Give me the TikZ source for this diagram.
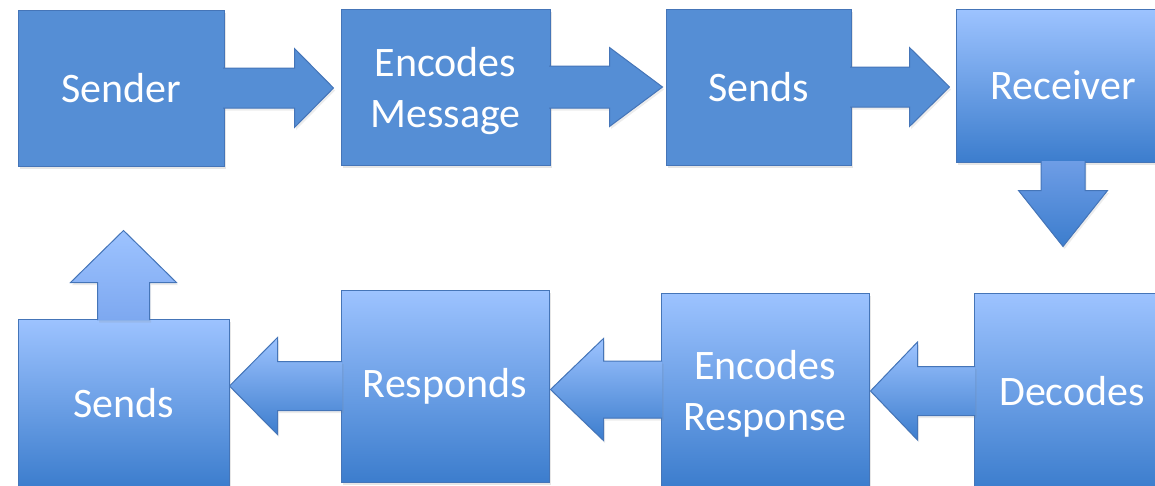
\documentclass[tikz,border=0pt]{standalone}
\usepackage{fontspec}
\setmainfont{Carlito}
\usetikzlibrary{calc,shadows}

\definecolor{flatblue}{RGB}{85,142,213}
\definecolor{edgeblue}{RGB}{69,117,184}
\definecolor{lightblue}{RGB}{157,195,255}
\definecolor{midblue}{RGB}{110,157,230}
\definecolor{darkblue}{RGB}{60,125,205}

% taller first line, pushes two-line labels down a little
\newcommand\tstrut{\rule{0pt}{37pt}}

% block arrow: [opts]{tail}{tip}{shaft half width}{head half width}{head length}
\newcommand\blockarrow[6][]{%
  \coordinate (ba) at ($(#3)!#6!(#2)$);
  \filldraw[ar,#1] ($(#2)!#4!90:(#3)$) -- ($(ba)!#4!90:(#3)$) -- ($(ba)!#5!90:(#3)$) -- (#3)
    -- ($(ba)!#5!-90:(#3)$) -- ($(ba)!#4!-90:(#3)$) -- ($(#2)!#4!-90:(#3)$);
}

\begin{document}
\begin{tikzpicture}[x=1pt,y=-1pt,
box/.style={draw=edgeblue, line width=1pt, fill=flatblue, text=white, inner sep=0pt, align=center,
  font=\fontsize{42}{51}\selectfont, drop shadow={opacity=0.2, shadow xshift=1.5pt, shadow yshift=-2.5pt}},
gbox/.style={box, top color=lightblue, bottom color=darkblue},
ar/.style={draw=edgeblue, line width=1pt, fill=flatblue, line join=miter,
  drop shadow={opacity=0.15, shadow xshift=1.5pt, shadow yshift=-2.5pt}}
]

\useasboundingbox (0,0) rectangle (1155,485);
\clip (0,0) rectangle (1155,485);

% ---------- TOP ROW ----------
\node[box, minimum width=206, minimum height=156] (sender) at (121,88) {Sender};
\node[box, minimum width=209, minimum height=156] (encmsg) at (445.5,87) {\tstrut Encodes\\Message};
\node[box, minimum width=185, minimum height=156] (sendsa) at (758.5,87) {Sends};
\node[gbox, minimum width=214, minimum height=153] (receiver) at (1063,85.5) {Receiver};

% ---------- BOTTOM ROW ----------
\node[gbox, minimum width=196, minimum height=196] (decodes) at (1072,391) {Decodes};
\node[gbox, minimum width=208, minimum height=193] (encresp) at (765,389.5) {\tstrut Encodes\\Response};
\node[gbox, minimum width=208, minimum height=192] (responds) at (445,386) {Responds};
\node[gbox, minimum width=211, minimum height=168] (sendsb) at (123.5,403) {Sends};

% top arrows
\coordinate (t1) at ([xshift=-1.5pt]sender.east);
\coordinate (h1) at ($(encmsg.west |- t1)+(-7,0)$);
\blockarrow{t1}{h1}{20pt}{39.5pt}{39pt}

\coordinate (t2) at ([xshift=-1.5pt]encmsg.east);
\coordinate (h2) at ([xshift=-3pt]sendsa.west);
\blockarrow{t2}{h2}{21pt}{39.5pt}{53pt}

\coordinate (t3) at ([xshift=-1.5pt]sendsa.east);
\coordinate (h3) at ($(receiver.west |- t3)+(-6,0)$);
\blockarrow{t3}{h3}{20pt}{39.5pt}{40pt}

% down
\coordinate (t4) at ([yshift=1.5pt]receiver.south);
\coordinate (h4) at ($(receiver.south)+(0,84)$);
\blockarrow[top color=midblue, bottom color=darkblue]{t4}{h4}{22pt}{44.5pt}{56pt}

% bottom arrows
\coordinate (t5) at ([xshift=1.5pt]decodes.west);
\coordinate (h5) at ($(encresp.east |- t5)+(1,0)$);
\blockarrow[top color=lightblue, bottom color=darkblue]{t5}{h5}{24.5pt}{49pt}{47pt}

\coordinate (t6) at ([xshift=1.5pt]encresp.west);
\coordinate (h6) at ($(responds.east |- t6)+(1,0)$);
\blockarrow[top color=lightblue, bottom color=darkblue]{t6}{h6}{28.5pt}{51pt}{53pt}

\coordinate (t7) at ([xshift=1.5pt]responds.west);
\coordinate (h7) at (sendsb.east |- t7);
\blockarrow[top color=lightblue, bottom color=darkblue]{t7}{h7}{24.5pt}{48.5pt}{48pt}

% up
\coordinate (t8) at ([yshift=-1.5pt]sendsb.north);
\coordinate (h8) at ($(sendsb.north)+(0,-88)$);
\blockarrow[top color=lightblue, bottom color={rgb,255:red,125;green,168;blue,240}]{t8}{h8}{26pt}{53pt}{52pt}

\end{tikzpicture}
\end{document}
